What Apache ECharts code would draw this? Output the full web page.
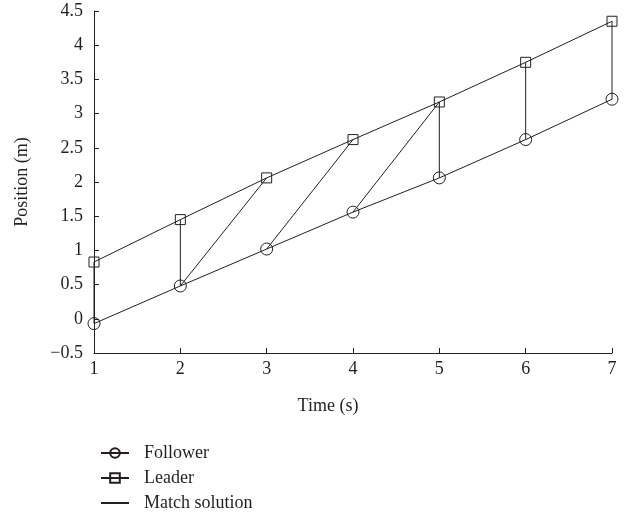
<!DOCTYPE html>
<html>
<head>
<meta charset="utf-8">
<script src="https://cdn.jsdelivr.net/npm/echarts@6/dist/echarts.min.js"></script>
<style>
  html, body { margin: 0; padding: 0; background: #fff; }
  #chart { width: 633px; height: 518px; }
</style>
</head>
<body>
<div id="chart"></div>
<script>
// Sample times (s)
const times = [1, 2, 3, 4, 5, 6, 7];
// Positions (m)
const follower = [-0.07, 0.48, 1.02, 1.56, 2.06, 2.62, 3.21];
const leader = [0.83, 1.45, 2.06, 2.62, 3.17, 3.75, 4.35];
// Matched index pairs (follower index, leader index), 0-based
const matchFollowerIdx = [0, 1, 1, 2, 3, 4, 5, 6];
const matchLeaderIdx = [0, 1, 2, 3, 4, 4, 5, 6];
// Y axis tick range
const yMin = -0.5, yMax = 4.5, yStep = 0.5;

const ink = '#231f20';
const font = 'Liberation Serif';

const matchSeries = matchFollowerIdx.map((fi, k) => {
  const li = matchLeaderIdx[k];
  return {
    name: 'Match solution',
    type: 'line',
    data: [[times[fi], follower[fi]], [times[li], leader[li]]],
    showSymbol: false,
    symbol: 'none',
    lineStyle: { color: ink, width: 1 },
    itemStyle: { color: ink },
    z: 1,
    silent: true
  };
});

const chart = echarts.init(document.getElementById('chart'), null, { renderer: 'canvas' });
chart.setOption({
  backgroundColor: '#ffffff',
  animation: false,
  grid: { left: 94, right: 21, top: 11, bottom: 165 },
  xAxis: {
    type: 'value',
    min: 1, max: 7, interval: 1,
    name: 'Time (s)',
    nameLocation: 'middle',
    nameGap: 44,
    nameTextStyle: { fontFamily: font, fontSize: 18, color: ink, padding: [0, 50, 0, 0] },
    axisLine: { onZero: false, lineStyle: { color: ink, width: 1 } },
    axisTick: { inside: true, length: 5, lineStyle: { color: ink } },
    axisLabel: { fontFamily: font, fontSize: 18, color: ink, margin: 7 },
    splitLine: { show: false }
  },
  yAxis: {
    type: 'value',
    min: yMin, max: yMax, interval: yStep,
    name: 'Position (m)',
    nameLocation: 'middle',
    nameGap: 63,
    nameTextStyle: { fontFamily: font, fontSize: 18, color: ink },
    axisLine: { show: true, onZero: false, lineStyle: { color: ink, width: 1 } },
    axisTick: { show: true, inside: true, length: 5, lineStyle: { color: ink } },
    axisLabel: {
      fontFamily: font, fontSize: 18, color: ink, margin: 11,
      formatter: v => String(v).replace('-', '\u2212')
    },
    splitLine: { show: false }
  },
  legend: {
    orient: 'vertical',
    left: 100,
    top: 444,
    padding: 0,
    itemWidth: 28,
    itemHeight: 12,
    itemGap: 7,
    textStyle: { fontFamily: font, fontSize: 18, color: ink, padding: [0, 0, 0, 10] },
    data: [
      'Follower',
      'Leader',
      { name: 'Match solution', itemStyle: { opacity: 0 } }
    ]
  },
  series: [
    {
      name: 'Follower',
      type: 'line',
      data: times.map((t, i) => [t, follower[i]]),
      symbol: 'circle',
      symbolSize: 12,
      lineStyle: { color: ink, width: 1 },
      itemStyle: { color: 'rgba(255,255,255,0)', borderColor: ink, borderWidth: 1 },
      z: 3
    },
    {
      name: 'Leader',
      type: 'line',
      data: times.map((t, i) => [t, leader[i]]),
      symbol: 'rect',
      symbolSize: 10,
      lineStyle: { color: ink, width: 1 },
      itemStyle: { color: 'rgba(255,255,255,0)', borderColor: ink, borderWidth: 1 },
      z: 3
    },
    ...matchSeries
  ]
});
</script>
</body>
</html>
